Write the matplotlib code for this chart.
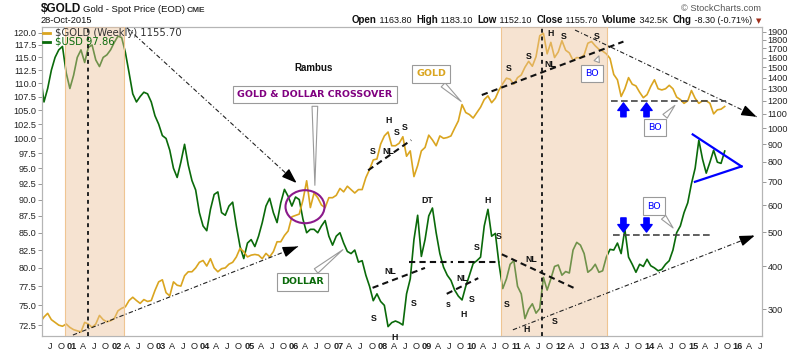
import numpy as np
import pandas as pd
import matplotlib
matplotlib.use('Agg')
import matplotlib.pyplot as plt
from matplotlib.patches import Ellipse
from matplotlib.ticker import FormatStrFormatter, NullLocator
from matplotlib.transforms import ScaledTranslation

plt.rcParams['font.family'] = ['Liberation Sans', 'DejaVu Sans']

# monthly values, May 2000 - Oct 2015
months = pd.date_range('2000-05-01', '2015-10-01', freq='MS')

usd = [
    112.0, 106.5, 109.0, 112.5, 115.0, 116.5, 117.2, 112.0,                   # 2000
    109.0, 111.5, 115.0, 116.5, 114.0, 117.0, 117.5, 114.5, 113.2, 115.0, 115.5, 116.5,
    118.0, 119.3, 119.0, 116.0, 112.0, 108.0, 106.5, 107.5, 108.3, 108.0, 106.5, 104.0,
    102.5, 100.5, 100.0, 98.0, 95.0, 93.5, 96.0, 99.0, 95.5, 93.0, 91.5, 88.0,
    86.0, 85.3, 88.5, 90.8, 91.2, 88.0, 87.6, 89.0, 89.6, 86.0, 83.0, 81.3,
    83.5, 84.0, 83.0, 84.5, 86.5, 89.0, 90.2, 88.0, 86.5, 89.5, 91.6, 90.5,
    89.0, 90.4, 90.0, 87.0, 85.0, 85.5, 85.5, 85.0, 86.0, 86.8, 84.5, 83.2,
    84.5, 85.0, 83.5, 82.3, 82.0, 82.5, 80.8, 81.0, 79.0, 77.5, 75.6, 76.5,
    75.5, 75.0, 72.3, 72.8, 73.0, 72.8, 72.5, 76.5, 78.5, 84.0, 87.6, 81.6,
    84.0, 87.5, 88.7, 85.0, 82.0, 80.1, 79.0, 78.3, 77.0, 76.2, 75.7, 77.5,
    79.0, 80.6, 81.0, 81.5, 86.0, 88.5, 84.5, 84.9, 80.5, 77.2, 78.5, 80.5,
    81.0, 77.5, 76.5, 73.3, 74.5, 75.2, 74.0, 74.6, 78.7, 77.0, 78.5, 80.2,
    80.4, 79.0, 79.5, 79.3, 82.5, 83.6, 83.2, 82.0, 79.4, 79.8, 80.5, 79.4,
    79.6, 81.5, 82.6, 82.5, 83.5, 82.0, 85.5, 81.5, 80.5, 79.4, 80.5, 80.2,
    81.2, 80.3, 80.0, 79.6, 79.8, 80.5, 81.0, 82.5, 85.0, 86.0, 88.0, 89.5,
    92.5, 95.0, 99.7, 96.5, 94.2, 96.0, 98.0, 96.0, 95.8, 97.86,             # 2015
]

gold = [
    275, 285, 292, 280, 275, 270, 268, 272,                                   # 2000
    266, 262, 260, 258, 275, 272, 266, 272, 288, 280, 276, 278,
    282, 297, 302, 305, 318, 325, 318, 312, 320, 316, 318, 340,
    360, 365, 335, 328, 360, 352, 350, 375, 385, 385, 395, 410,
    415, 400, 420, 395, 385, 393, 395, 405, 410, 425, 450, 440,
    425, 430, 432, 430, 420, 435, 425, 440, 470, 470, 490, 505,
    555, 560, 565, 620, 705, 590, 650, 630, 600, 590, 630, 630,
    640, 670, 655, 680, 665, 650, 665, 665, 720, 760, 810, 815,
    900, 950, 975, 890, 890, 905, 945, 830, 860, 725, 780, 860,
    880, 955, 925, 890, 950, 935, 940, 950, 1000, 1050, 1170, 1110,
    1095, 1070, 1110, 1150, 1210, 1240, 1185, 1220, 1290, 1345, 1395, 1385,
    1340, 1400, 1425, 1500, 1560, 1510, 1610, 1850, 1880, 1640, 1770, 1600,
    1660, 1790, 1680, 1650, 1570, 1600, 1595, 1630, 1760, 1780, 1730, 1690,
    1670, 1640, 1590, 1430, 1380, 1235, 1300, 1400, 1340, 1325, 1270, 1225,
    1250, 1320, 1380, 1300, 1290, 1300, 1330, 1300, 1230, 1210, 1180, 1200,
    1285, 1220, 1180, 1200, 1200, 1180, 1100, 1130, 1135, 1155.7,            # 2015
]

yrs = months.year + (months.month - 0.5) / 12

usd_ticks = np.arange(72.5, 120.1, 2.5)
gold_ticks = np.arange(300, 1901, 100)

bands = [(2000.93, 2002.26), (2010.75, 2013.13)]
vlines = [2001.46, 2011.67]

GREEN = '#0a6a0a'
GOLDC = '#DAA520'

fig = plt.figure(figsize=(8, 3.52), dpi=100)
ax = fig.add_axes([0.0525, 0.0455, 0.9, 0.8786])
ax2 = ax.twinx()
U = ax.transData
G = ax2.transData

ax.plot(yrs, usd, color=GREEN, lw=1.2)
ax2.plot(yrs, gold, color=GOLDC, lw=1.2, zorder=2)

for a, b in bands:
    ax2.axvspan(a, b, color='#edc39b', alpha=0.45, lw=0, zorder=3)
    ax2.axvline(a, color='#efc592', lw=0.8, zorder=3)
    ax2.axvline(b, color='#efc592', lw=0.8, zorder=3)
for v in vlines:
    ax2.axvline(v, color='#222', lw=1.4, ls=(0, (2, 2)), zorder=4)


def trend(p0, p1, tr, arrow=False, **kw):
    ax2.plot([p0[0], p1[0]], [p0[1], p1[1]], transform=tr, zorder=5, **kw)
    if arrow:
        f = 0.04
        px = p1[0] - f * (p1[0] - p0[0])
        py = np.exp(np.log(p1[1]) - f * (np.log(p1[1]) - np.log(p0[1])))
        ax2.annotate('', xy=p1, xytext=(px, py), xycoords=tr, textcoords=tr,
                     arrowprops=dict(arrowstyle='-|>,head_length=0.9,head_width=0.32',
                                     color='k', lw=1, shrinkA=0, shrinkB=0,
                                     mutation_scale=10), zorder=6)


thin = dict(color='#222', lw=0.8, ls=(0, (4, 2, 1, 2)))
nl = dict(color='#111', lw=1.5, ls=(0, (3, 2)))
hz = dict(color='#444', lw=1.2, ls=(0, (4, 2)))

# long trend lines
trend((2002.33, 121.0), (2006.15, 92.6), U, arrow=True, **thin)
trend((2001.11, 252.8), (2006.18, 455.5), G, arrow=True, **thin)
trend((2011.02, 71.9), (2016.47, 84.6), U, arrow=True, **thin)
trend((2012.42, 1921), (2016.51, 1079), G, arrow=True, **thin)
# necklines
trend((2010.32, 1247), (2013.51, 1779), G, **nl)
trend((2007.76, 756), (2008.73, 924), G, **nl)
trend((2007.86, 77.3), (2009.04, 80.0), U, **nl)
trend((2009.53, 76.5), (2010.24, 78.6), U, **nl)
trend((2010.77, 81.9), (2012.46, 77.1), U, **nl)
trend((2008.69, 80.8), (2009.66, 80.8), U, **nl)
trend((2009.78, 80.8), (2010.73, 80.8), U, **nl)
# horizontal breakout levels
trend((2013.24, 1201), (2015.83, 1201), G, **hz)
trend((2013.28, 84.7), (2015.46, 84.7), U, **hz)
# blue triangle
trend((2015.07, 100.7), (2016.17, 95.3), U, color='blue', lw=1.6)
trend((2015.12, 92.8), (2016.17, 95.3), U, color='blue', lw=1.6)

# blue block arrows
blk = dict(arrowstyle='simple,head_length=0.6,head_width=0.9,tail_width=0.42',
           fc='blue', ec='blue', mutation_scale=9, shrinkA=0, shrinkB=0)
for xa in [2013.51, 2014.03]:
    ax2.annotate('', xy=(xa, 1183), xytext=(xa, 1079), xycoords=G, arrowprops=blk, zorder=6)
    ax2.annotate('', xy=(xa, 85.1), xytext=(xa, 87.2), xycoords=U, textcoords=U,
                 arrowprops=blk, zorder=6)

# pattern letters
letters_gold = [('S', 2007.87, 859), ('H', 2008.21, 1055), ('S', 2008.41, 969),
                ('S', 2008.59, 1002), ('NL', 2008.21, 859),
                ('S', 2010.92, 1490), ('S', 2011.37, 1610), ('H', 2011.86, 1882),
                ('S', 2012.16, 1837), ('NL', 2011.86, 1530), ('S', 2012.91, 1837)]
letters_usd = [('S', 2007.88, 73.3), ('NL', 2008.25, 79.5), ('H', 2008.36, 71.0),
               ('S', 2008.78, 75.3), ('DT', 2009.08, 89.9), ('s', 2009.57, 75.1),
               ('NL', 2009.87, 78.6), ('H', 2009.92, 73.8), ('S', 2010.09, 75.7),
               ('S', 2010.20, 82.8), ('H', 2010.44, 89.9), ('S', 2010.69, 84.4),
               ('S', 2010.88, 75.1), ('NL', 2011.44, 81.1), ('H', 2011.33, 71.9),
               ('S', 2011.97, 72.9)]
for s, xx, yy in letters_gold:
    ax2.text(xx, yy, s, transform=G, ha='center', va='center', fontsize=6.3,
             fontweight='bold', color='#111', zorder=7)
for s, xx, yy in letters_usd:
    ax2.text(xx, yy, s, transform=U, ha='center', va='center', fontsize=6.3,
             fontweight='bold', color='#111', zorder=7, clip_on=False)

ax2.text(2006.52, 112.9, 'Rambus', transform=U, ha='center', va='center',
         fontsize=7, fontweight='bold', color='#111', zorder=7)

ax2.add_patch(Ellipse((0.3653, 0.418), 0.0542, 0.1067, transform=ax2.transAxes,
                      fill=False, ec='#8b1a8b', lw=1.5, zorder=7))


def callout(text, xy, xytext, tr, color, bold=True):
    ax2.annotate(text, xy=xy, xytext=xytext, xycoords=tr, textcoords=tr,
                 ha='center', va='center', fontsize=6.8, color=color,
                 fontweight='bold' if bold else 'normal', family='DejaVu Sans',
                 bbox=dict(boxstyle='square,pad=0.45', fc='white', ec='#9a9a9a', lw=0.8),
                 arrowprops=dict(arrowstyle='wedge,tail_width=0.6,shrink_factor=0.5',
                                 fc='white', ec='#9a9a9a', lw=0.8),
                 zorder=8)


callout('GOLD & DOLLAR CROSSOVER', (2006.56, 91.8), (2006.56, 107.9), U, '#800080')
callout('DOLLAR', (2007.24, 82.8), (2006.28, 78.1), U, GREEN)
callout('GOLD', (2009.90, 1180), (2009.18, 1436), G, GOLDC)
callout('BO', (2012.98, 1646), (2012.81, 1440), G, 'blue', bold=False)
callout('BO', (2014.71, 1180), (2014.22, 1005), G, 'blue', bold=False)
callout('BO', (2014.67, 85.4), (2014.19, 89.0), U, 'blue', bold=False)

# legend
for yy, col, txt, tcol in [(0.9797, GOLDC, '$GOLD (Weekly) 1155.70', '#333'),
                           (0.9515, GREEN, '$USD 97.86', GREEN)]:
    ax2.plot([0.0015, 0.011], [yy, yy], transform=ax2.transAxes, color=col, lw=2, zorder=9)
    ax2.text(0.018, yy, txt, transform=ax2.transAxes, va='center', fontsize=7.2,
             family='DejaVu Sans', color=tcol, zorder=9)

# axes
ax.set_yscale('log')
ax2.set_yscale('log')
ax.set_xlim(2000.414, 2016.631)
ax.set_ylim(71.14, 121.25)
ax2.set_ylim(251.2, 1964)
ax.set_yticks(usd_ticks)
ax.yaxis.set_major_formatter(FormatStrFormatter('%.1f'))
ax2.set_yticks(gold_ticks)
ax2.yaxis.set_major_formatter(FormatStrFormatter('%d'))
for a in (ax, ax2):
    a.yaxis.set_minor_locator(NullLocator())
    a.tick_params(axis='y', length=3, width=0.6, color='#888', labelsize=6.6,
                  labelcolor='#222', pad=1)
    for sp in a.spines.values():
        sp.set_color('#b5b5b5')
        sp.set_linewidth(0.8)

qpos, qlab = [], []
for y in range(2000, 2017):
    for q, m in enumerate(['01', 'A', 'J', 'O']):
        p = y + q * 0.25
        if 2000.45 < p < 2016.6:
            qpos.append(p)
            qlab.append('%02d' % (y % 100) if q == 0 else m)
ax.set_xticks(qpos)
ax.set_xticklabels(qlab)
ax.xaxis.set_minor_locator(NullLocator())
ax.tick_params(axis='x', length=0, labelsize=6.6, labelcolor='#222', pad=4)
off = ScaledTranslation(4 / 100, 0, fig.dpi_scale_trans)
for lab in ax.get_xticklabels():
    lab.set_transform(lab.get_transform() + off)
    if lab.get_text().isdigit():
        lab.set_fontweight('bold')

# header
fig.text(41 / 800, 1 - 12 / 352, '$GOLD', fontsize=8.5, fontweight='bold', color='#111')
fig.text(83 / 800, 1 - 12 / 352, 'Gold - Spot Price (EOD)', fontsize=6.8, color='#111')
fig.text(187 / 800, 1 - 12 / 352, 'CME', fontsize=6, fontweight='bold', color='#333')
fig.text(41 / 800, 1 - 23 / 352, '28-Oct-2015', fontsize=6.7, color='#111')
fig.text(761 / 800, 1 - 11 / 352, '\u00a9 StockCharts.com', fontsize=6.7, ha='right', color='#555')

pieces = [('Open', 'bold'), (' 1163.80  ', 'normal'), ('High', 'bold'), (' 1183.10  ', 'normal'),
          ('Low', 'bold'), (' 1152.10  ', 'normal'), ('Close', 'bold'), (' 1155.70  ', 'normal'),
          ('Volume', 'bold'), (' 342.5K  ', 'normal'), ('Chg', 'bold'), (' -8.30 (-0.71%)', 'normal')]
renderer = fig.canvas.get_renderer()
xr = 752
tri = fig.text(761 / 800, 1 - 23 / 352, '\u25bc', fontsize=5, ha='right', color='#a0301c',
               family='DejaVu Sans')
for s, w in reversed(pieces):
    t = fig.text(xr / 800, 1 - 23 / 352, s, ha='right', fontsize=7 if w == 'bold' else 6.5,
                 fontweight=w, color='#111')
    xr -= t.get_window_extent(renderer).width

fig.savefig('out.png', dpi=100)
